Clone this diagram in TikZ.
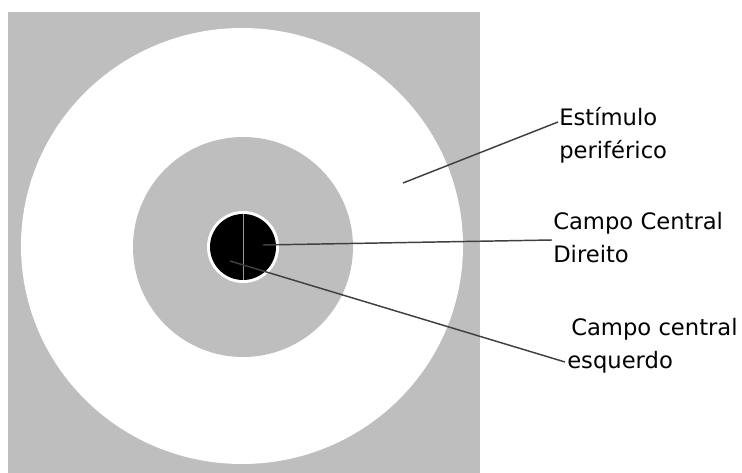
\documentclass[tikz,border=0pt]{standalone}
\usepackage{fontspec}
\setmainfont{DejaVu Sans}
\usetikzlibrary{calc}
\definecolor{FieldGray}{RGB}{190,190,190}
\definecolor{LeaderGray}{RGB}{64,64,64}

\begin{document}
\begin{tikzpicture}[x=0.75pt,y=-0.75pt]
        \tikzset{label/.style={anchor=base west,inner sep=0pt,align=left,font=\fontsize{17}{24.75}\selectfont},
          leader/.style={draw=LeaderGray,line width=1.1pt}}
        \useasboundingbox[fill=white] (0,0) rectangle (742,473);
        % fields of the stimulus
        \fill[FieldGray] (8,12) rectangle (480,473);
        \fill[white] (242,246) ellipse [x radius=221,y radius=218];
        \fill[FieldGray] (243,247) circle [radius=110];
        \fill[white] (243,247) circle [radius=36];
        \fill[black] (243,247) circle [radius=33];
        \draw[gray!80,line width=0.6pt] (243,214) -- (243,280);
        % points the leaders start from
        \coordinate (pEstim) at (403,183);
        \coordinate (pDir) at (263,245);
        \coordinate (pEsq) at (230,261);
        % labels (base anchor sits on the last line)
        \node[label] (estim) at (559,159) {Estímulo\\periférico};
        \node[label] (dir) at (553,263) {Campo Central\\Direito};
        \node[label] (esq) at (571,369) {Campo central\\\hspace*{-3pt}esquerdo};
        \coordinate (estimEnd) at ($(estim.base west)+(-1,-37)$);
        \coordinate (dirEnd) at ($(dir.base west)+(-1,-23)$);
        \coordinate (esqEnd) at ($(esq.base west)+(-6,-7)$);
        \foreach \a/\b in {pEstim/estimEnd,pDir/dirEnd,pEsq/esqEnd}{\draw[leader] (\a) -- (\b);}
      \end{tikzpicture}
\end{document}
